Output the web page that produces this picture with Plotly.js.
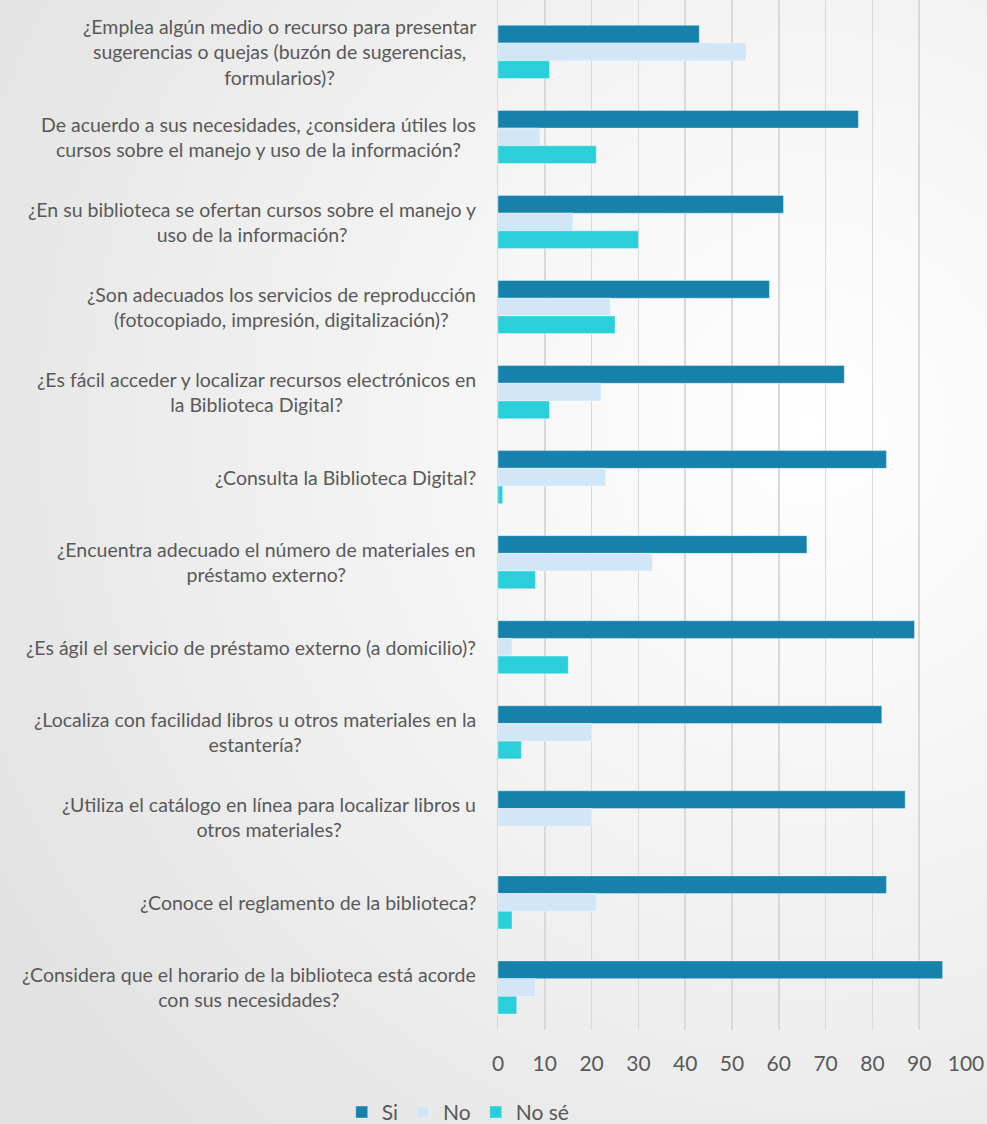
<!DOCTYPE html>
<html>
<head>
<meta charset="utf-8">
<script src="https://cdn.plot.ly/plotly-3.0.1.min.js"></script>
<style>
  html, body { margin: 0; padding: 0; }
  body {
    width: 987px; height: 1124px; overflow: hidden;
    background: radial-gradient(ellipse 95% 85% at 82% 38%, #ffffff 0%, #f6f6f6 35%, #ececec 70%, #e2e2e2 100%);
  }
  #chart { width: 987px; height: 1124px; }
</style>
</head>
<body>
<div id="chart"></div>
<script>
const categories = [
  "¿Emplea algún medio o recurso para presentar<br>sugerencias o quejas (buzón de sugerencias,<br>formularios)?",
  "De acuerdo a sus necesidades, ¿considera útiles los<br>cursos sobre el manejo y uso de la información?",
  "¿En su biblioteca se ofertan cursos sobre el manejo y<br>uso de la información?",
  "¿Son adecuados los servicios de reproducción<br>(fotocopiado, impresión, digitalización)?",
  "¿Es fácil acceder y localizar recursos electrónicos en<br>la Biblioteca Digital?",
  "¿Consulta la Biblioteca Digital?",
  "¿Encuentra adecuado el número de materiales en<br>préstamo externo?",
  "¿Es ágil el servicio de préstamo externo (a domicilio)?",
  "¿Localiza con facilidad libros u otros materiales en la<br>estantería?",
  "¿Utiliza el catálogo en línea para localizar libros u<br>otros materiales?",
  "¿Conoce el reglamento de la biblioteca?",
  "¿Considera que el horario de la biblioteca está acorde<br>con sus necesidades?"
];
const seriesNames = ["Si", "No", "No sé"];
const si   = [43, 77, 61, 58, 74, 83, 66, 89, 82, 87, 83, 95];
const no   = [53,  9, 16, 24, 22, 23, 33,  3, 20, 20, 21,  8];
const nose = [11, 21, 30, 25, 11,  1,  8, 15,  5,  0,  3,  4];
const xTicks = [0, 10, 20, 30, 40, 50, 60, 70, 80, 90, 100];

const colors = ["#1682ab", "#d1e6f6", "#2acfd9"];
const FONT = "Lato, 'Open Sans', sans-serif";
const TXT = "#595959";

const values = [si, no, nose];
const traces = values.map((v, i) => ({
  type: "bar",
  orientation: "h",
  name: seriesNames[i],
  y: categories,
  x: v,
  marker: { color: colors[i], line: { color: "rgba(255,255,255,0.45)", width: 0.8 } },
  hoverinfo: "x+name"
}));

const annotations = categories.map(c => ({
  xref: "paper", yref: "y",
  x: 0, y: c,
  xshift: -20,
  xanchor: "right", yanchor: "middle",
  align: "center",
  text: c,
  showarrow: false,
  font: { family: FONT, size: 19.5, color: TXT }
}));

const layout = {
  width: 987, height: 1124,
  margin: { l: 498, r: 21, t: 0, b: 94, autoexpand: false },
  paper_bgcolor: "rgba(0,0,0,0)",
  plot_bgcolor: "rgba(0,0,0,0)",
  barmode: "group",
  bargap: 0.376,
  bargroupgap: 0,
  showlegend: true,
  legend: {
    orientation: "h",
    x: -0.085, xanchor: "center",
    y: -0.080, yanchor: "middle",
    font: { family: FONT, size: 21, color: TXT },
    itemwidth: 30,
    traceorder: "normal"
  },
  xaxis: {
    range: [0, 100],
    tickvals: xTicks,
    ticktext: xTicks.map(String),
    showgrid: true,
    gridcolor: "#d9d9d9",
    gridwidth: 1.5,
    zeroline: false,
    showline: false,
    ticks: "",
    ticklabelstandoff: 19,
    tickfont: { family: FONT, size: 21, color: TXT },
    automargin: false,
    fixedrange: true
  },
  yaxis: {
    type: "category",
    categoryorder: "array",
    categoryarray: categories,
    range: [11.5, -0.61],
    showticklabels: false,
    showgrid: false,
    zeroline: false,
    showline: true,
    linecolor: "#d9d9d9",
    linewidth: 1.5,
    ticks: "",
    automargin: false,
    fixedrange: true
  },
  annotations: annotations
};

Plotly.newPlot("chart", traces, layout, { displayModeBar: false, staticPlot: true });
</script>
</body>
</html>
